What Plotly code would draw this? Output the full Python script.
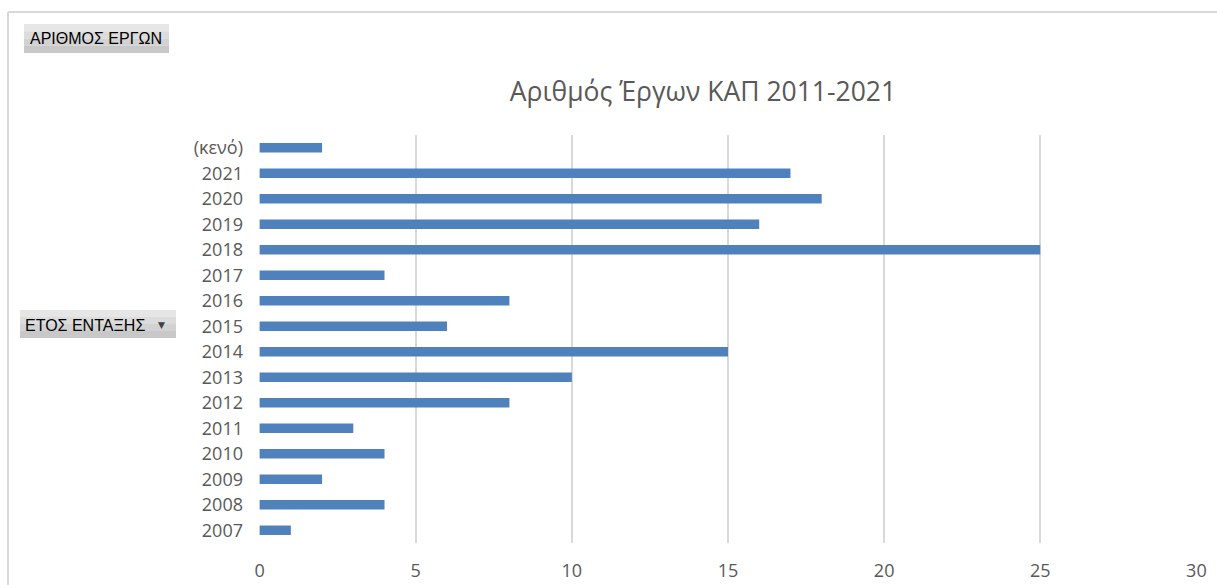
import plotly.graph_objects as go

# data
years = ["2007", "2008", "2009", "2010", "2011", "2012", "2013", "2014",
         "2015", "2016", "2017", "2018", "2019", "2020", "2021", "(κενό)"]
projects = [1, 4, 2, 4, 3, 8, 10, 15, 6, 8, 4, 25, 16, 18, 17, 2]

W, H = 1217, 585
ML, MR, MT, MB = 259, 20, 135, 42
PW, PH = W - ML - MR, H - MT - MB


def px(x):
    return (x - ML) / PW


def py(y):
    return (H - MB - y) / PH


fig = go.Figure()
fig.add_trace(go.Bar(x=projects, y=years, orientation="h",
                     marker=dict(color="#4f81bd", line=dict(width=0)),
                     hoverinfo="x+y"))

txt = "#595959"
grid = "#d9d9d9"


def button(x0, x1, y0, y1):
    # fake vertical gradient with a few strips
    cols = ["#e6e6e6", "#dcdcdc", "#d2d2d2", "#c8c8c8"]
    n = len(cols)
    out = []
    for i, c in enumerate(cols):
        a = y0 + (y1 - y0) * i / n
        b = y0 + (y1 - y0) * (i + 1) / n
        out.append(dict(type="rect", xref="paper", yref="paper", x0=px(x0), x1=px(x1),
                        y0=py(a), y1=py(b), fillcolor=c, line=dict(width=0), layer="below"))
    return out


shapes = [
    # chart frame
    dict(type="line", xref="paper", yref="paper", x0=px(8), x1=px(1230), y0=py(12), y1=py(12),
         line=dict(color=grid, width=2)),
    dict(type="line", xref="paper", yref="paper", x0=px(8), x1=px(8), y0=py(12), y1=py(600),
         line=dict(color=grid, width=2)),
]
shapes += button(24, 169, 24, 53)
shapes += button(20, 176, 310, 338)

bfont = dict(family="Liberation Sans, Arial", size=16, color="#000000")
annotations = [
    dict(text="ΑΡΙΘΜΟΣ ΕΡΓΩΝ", xref="paper", yref="paper", x=px(28), y=py(39),
         xanchor="left", yanchor="middle", showarrow=False, font=bfont),
    dict(text="ΕΤΟΣ ΕΝΤΑΞΗΣ", xref="paper", yref="paper", x=px(23), y=py(325),
         xanchor="left", yanchor="middle", showarrow=False, font=bfont),
    dict(text="▼", xref="paper", yref="paper", x=px(161), y=py(325),
         xanchor="center", yanchor="middle", showarrow=False,
         font=dict(family="DejaVu Sans", size=9, color="#404040")),
]

fig.update_layout(
    width=W, height=H,
    margin=dict(l=ML, r=MR, t=MT, b=MB),
    paper_bgcolor="white", plot_bgcolor="white",
    title=dict(text="Αριθμός Έργων ΚΑΠ 2011-2021", x=703 / W, y=1 - 92 / H,
               xanchor="center", yanchor="middle", automargin=False,
               font=dict(family="Open Sans", size=26.5, color=txt)),
    font=dict(family="Open Sans", size=18, color=txt),
    bargap=0.63,
    showlegend=False,
    shapes=shapes,
    annotations=annotations,
)
fig.update_xaxes(range=[-0.02, 30.02], tickvals=[0, 5, 10, 15, 20, 25, 30],
                 showgrid=True, gridcolor=grid, gridwidth=2, automargin=False,
                 zeroline=False, showline=False, ticklabelstandoff=15,
                 tickfont=dict(family="Open Sans", size=18, color=txt))
fig.update_yaxes(type="category", categoryorder="array", categoryarray=years,
                 range=[-0.5, 15.5], showgrid=False, zeroline=False, showline=False,
                 ticklabelstandoff=15, automargin=False,
                 tickfont=dict(family="Open Sans", size=18, color=txt))

fig.write_html("out.html", config={"displayModeBar": False},
               post_script="document.body.style.margin='0';")
